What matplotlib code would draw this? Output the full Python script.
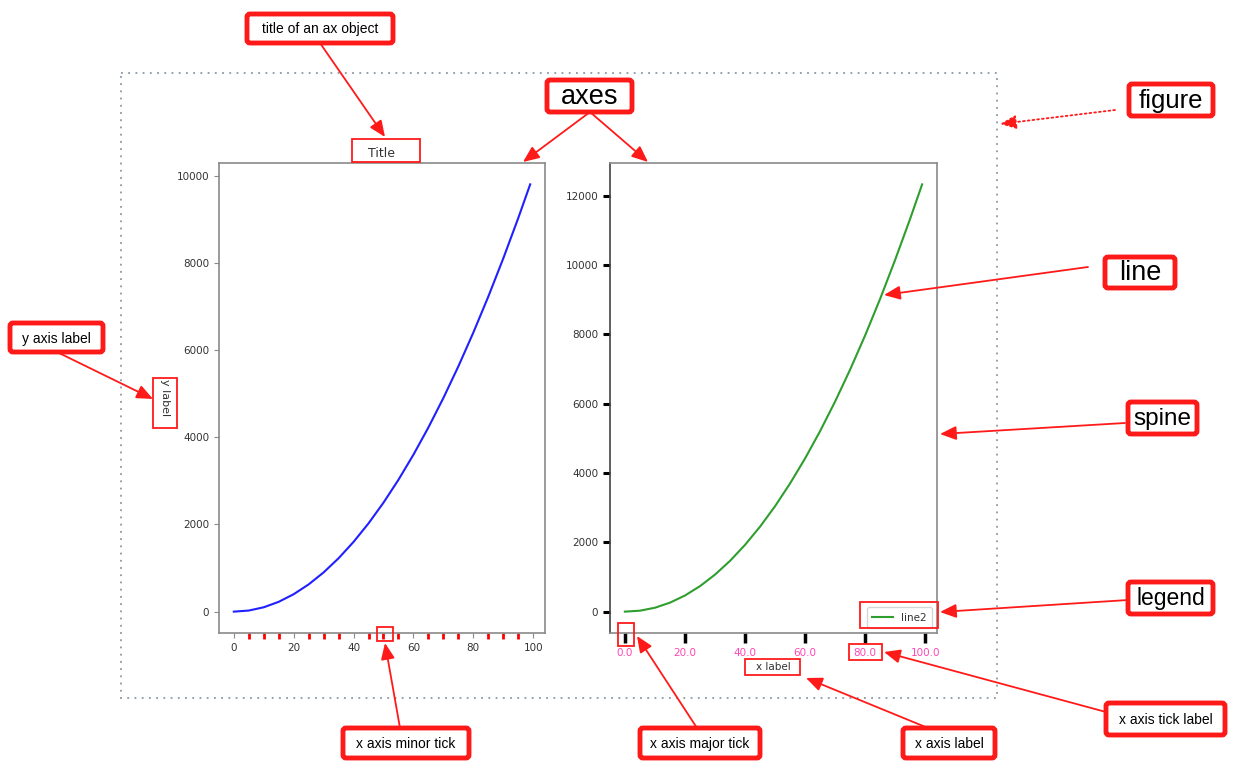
import matplotlib
matplotlib.use("Agg")
import matplotlib.pyplot as plt
from matplotlib.patches import FancyBboxPatch, Rectangle, FancyArrowPatch
from matplotlib.ticker import MultipleLocator, FormatStrFormatter

# ---- data ----
x_vals = [0, 5, 10, 15, 20, 25, 30, 35, 40, 45, 50, 55, 60, 65, 70, 75, 80, 85, 90, 95, 99]
y_blue = [0, 25, 100, 225, 400, 625, 900, 1225, 1600, 2025, 2500, 3025, 3600,
          4225, 4900, 5625, 6400, 7225, 8100, 9025, 9801]
y_green = [0, 27, 112, 258, 465, 734, 1067, 1463, 1925, 2450, 3040, 3697, 4418,
           5206, 6061, 6981, 7968, 9024, 10149, 11335, 12330]
left_yticks = [0, 2000, 4000, 6000, 8000, 10000]
right_yticks = [0, 2000, 4000, 6000, 8000, 10000, 12000]
xticks = [0, 20, 40, 60, 80, 100]
legend_label = "line2"

W, H = 1241, 776
fig = plt.figure(figsize=(W / 100, H / 100), dpi=100)
fig.patch.set_facecolor("white")

def ax_rect(x0, y0, x1, y1):
    return [x0 / W, 1 - y1 / H, (x1 - x0) / W, (y1 - y0) / H]

spine_gray = "#8a8a8a"
tick_text = "#333333"

# ---- left axes ----
ax1 = fig.add_axes(ax_rect(219, 163, 545, 633))
ax1.plot(x_vals, y_blue, color="#2020ff", lw=1.5)
ax1.set_xticks(xticks)
ax1.set_yticks(left_yticks)
ax1.xaxis.set_minor_locator(MultipleLocator(5))
ax1.tick_params(which="major", labelsize=7.5, colors=spine_gray, labelcolor=tick_text, length=3.5, width=0.8)
ax1.tick_params(axis="x", which="minor", colors="red", length=4, width=2)
ax1.set_title("Title", fontsize=9, color=tick_text, pad=4)
ax1.set_ylabel("y label", fontsize=8, color=tick_text, labelpad=5, rotation=270, va="top")
for s in ax1.spines.values():
    s.set_color(spine_gray)
    s.set_linewidth(1.2)

# ---- right axes ----
ax2 = fig.add_axes(ax_rect(610, 163, 937, 633))
ax2.plot(x_vals, y_green, color="#2e9e2e", lw=1.5, label=legend_label)
ax2.set_xticks(xticks)
ax2.set_yticks(right_yticks)
ax2.xaxis.set_major_formatter(FormatStrFormatter("%.1f"))
ax2.tick_params(axis="x", labelsize=7.5, colors="black", labelcolor="#ff45b5", length=7, width=2.5)
ax2.tick_params(axis="y", labelsize=7.5, colors="black", labelcolor=tick_text, length=5, width=2.2)
ax2.set_xlabel("x label", fontsize=7.5, color=tick_text, labelpad=3)
for s in ax2.spines.values():
    s.set_color(spine_gray)
    s.set_linewidth(1.2)
ax2.spines["left"].set_color("#444444")
leg = ax2.legend(loc="lower right", fontsize=7.5, handlelength=2.0, borderpad=0.5)
for t in leg.get_texts():
    t.set_color(tick_text)

# ---- overlay for annotations (pixel coordinates) ----
ov = fig.add_axes([0, 0, 1, 1], zorder=10)
ov.set_xlim(0, W)
ov.set_ylim(H, 0)
ov.axis("off")
ov.patch.set_alpha(0)

red = "#ff1a1a"

# figure border (dotted)
ov.add_patch(Rectangle((121, 73), 876, 625, fill=False, ec="#8a97a6", lw=1.3,
                       ls=(0, (1, 3))))

def big_box(x0, y0, x1, y1, text, fs):
    ov.add_patch(FancyBboxPatch((x0, y0), x1 - x0, y1 - y0,
                                boxstyle="round,pad=0,rounding_size=3",
                                fc="white", ec=red, lw=3.5))
    ov.text((x0 + x1) / 2, (y0 + y1) / 2 + 1, text, ha="center", va="center",
            fontsize=fs, family="Liberation Sans", color="black")

def thin_box(x0, y0, x1, y1):
    ov.add_patch(Rectangle((x0, y0), x1 - x0, y1 - y0, fill=False, ec=red, lw=1.3))

def arrow(p0, p1, ls="-"):
    ov.add_patch(FancyArrowPatch(p0, p1, arrowstyle="-|>,head_length=0.7,head_width=0.3",
                                 mutation_scale=14, color=red, lw=1.3, ls=ls,
                                 shrinkA=0, shrinkB=0))

# thin boxes around elements
thin_box(352, 139, 420, 162)   # title
thin_box(153, 378, 177, 428)   # y label
thin_box(377, 627, 393, 641)   # minor tick
thin_box(618, 623, 634, 646)   # major tick
thin_box(745, 659, 800, 675)   # x label
thin_box(849, 644, 882, 660)   # tick label
thin_box(860, 602, 938, 628)   # legend

# arrows
arrow((320, 43), (385, 137))
arrow((590, 112), (523, 162))
arrow((590, 112), (648, 162))
arrow((1115, 110), (1000, 124), ls=":")
arrow((1088, 267), (884, 295))
arrow((1125, 423), (940, 434))
arrow((1128, 600), (940, 612))
arrow((57, 352), (153, 399))
arrow((400, 728), (385, 643))
arrow((697, 728), (637, 636))
arrow((928, 728), (806, 678))
arrow((1106, 712), (884, 652))

# label boxes
big_box(247, 14, 393, 43, "title of an ax object", 10)
big_box(547, 80, 632, 112, "axes", 19.5)
big_box(1129, 84, 1213, 116, "figure", 18.5)
big_box(1105, 257, 1175, 288, "line", 19.5)
big_box(1128, 402, 1197, 434, "spine", 17.5)
big_box(1128, 582, 1213, 614, "legend", 16.5)
big_box(10, 323, 103, 352, "y axis label", 10)
big_box(343, 728, 469, 758, "x axis minor tick", 10)
big_box(640, 728, 760, 758, "x axis major tick", 10)
big_box(903, 728, 995, 758, "x axis label", 10)
big_box(1106, 703, 1225, 735, "x axis tick label", 10)

fig.savefig("out.png", dpi=100)
